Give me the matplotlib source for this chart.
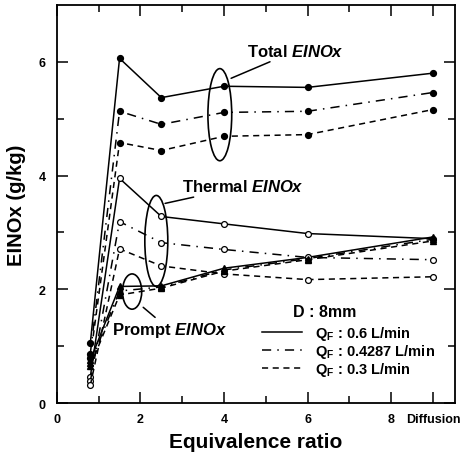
import numpy as np
import matplotlib
matplotlib.use("Agg")
import matplotlib.pyplot as plt
import matplotlib.transforms as mtransforms
from matplotlib.patches import Ellipse
from matplotlib.lines import Line2D

plt.rcParams['font.family'] = ['Liberation Sans', 'DejaVu Sans']
plt.rcParams['font.weight'] = 'bold'
plt.rcParams['mathtext.fontset'] = 'custom'
plt.rcParams['mathtext.rm'] = 'Liberation Sans:bold'
plt.rcParams['mathtext.it'] = 'Liberation Sans:italic:bold'
plt.rcParams['mathtext.bf'] = 'Liberation Sans:bold'

# equivalence ratio positions (9 = diffusion flame)
phi = [0.8, 1.5, 2.5, 4, 6, 9]
flows = ['0.6', '0.4287', '0.3']

total = {
    '0.6':    [1.05, 6.06, 5.37, 5.57, 5.55, 5.80],
    '0.4287': [0.87, 5.13, 4.90, 5.11, 5.13, 5.46],
    '0.3':    [0.80, 4.58, 4.44, 4.69, 4.72, 5.16],
}
thermal = {
    '0.6':    [0.46, 3.95, 3.28, 3.15, 2.98, 2.89],
    '0.4287': [0.38, 3.19, 2.82, 2.70, 2.56, 2.52],
    '0.3':    [0.31, 2.71, 2.41, 2.27, 2.17, 2.22],
}
prompt = {
    '0.6':    [0.75, 2.05, 2.06, 2.37, 2.56, 2.92],
    '0.4287': [0.70, 1.97, 2.04, 2.34, 2.54, 2.88],
    '0.3':    [0.65, 1.90, 2.02, 2.32, 2.52, 2.85],
}

styles = {
    '0.6': '-',
    '0.4287': (0, (6, 4, 1, 4)),
    '0.3': (0, (4, 3)),
}

fig = plt.figure(figsize=(4.74, 4.56), dpi=100)
ax = fig.add_axes([0.120, 0.114, 0.840, 0.873])

lw = 1.1
ms = 4.2
for q in flows:
    ls = styles[q]
    ax.plot(phi, total[q], linestyle=ls, color='black', lw=lw,
            marker='o', ms=ms, mfc='black', mec='black')
    ax.plot(phi, thermal[q], linestyle=ls, color='black', lw=lw,
            marker='o', ms=ms, mfc='white', mec='black', mew=0.9)
    ax.plot(phi, prompt[q], linestyle=ls, color='black', lw=lw,
            marker='^', ms=ms, mfc='black', mec='black')

# ellipses grouping the three flow rates
for (cx, cy, w, h) in [(3.9, 5.07, 0.57, 1.62),
                       (2.38, 2.85, 0.55, 1.60),
                       (1.80, 1.96, 0.46, 0.62)]:
    ax.add_patch(Ellipse((cx, cy), w, h, fill=False, lw=1.2, color='black'))

ax.annotate(r'Total $\mathit{EINOx}$', xy=(4.17, 5.71), xytext=(4.55, 6.19),
            fontsize=12, va='center', ha='left',
            arrowprops=dict(arrowstyle='-', lw=1.1, color='black', shrinkA=0, shrinkB=0))
ax.annotate(r'Thermal $\mathit{EINOx}$', xy=(2.59, 3.51), xytext=(2.99, 3.81),
            fontsize=12, va='center', ha='left',
            arrowprops=dict(arrowstyle='-', lw=1.1, color='black', shrinkA=0, shrinkB=0))
ax.annotate(r'Prompt $\mathit{EINOx}$', xy=(1.99, 1.73), xytext=(1.32, 1.29),
            fontsize=12, va='center', ha='left',
            arrowprops=dict(arrowstyle='-', lw=1.1, color='black', shrinkA=0, shrinkB=3))

handles = [Line2D([], [], color='black', lw=lw, linestyle=styles[q]) for q in flows]
labels = [r'Q$_\mathrm{F}$ : %s L/min' % q for q in flows]
ax.legend(handles, labels, frameon=False, fontsize=10.5,
          handlelength=2.75, handletextpad=0.9,
          labelspacing=0.0, borderpad=0.2,
          loc='lower right', bbox_to_anchor=(0.975, 0.037))
ax.text(0.673, 0.231, 'D : 8mm', transform=ax.transAxes, fontsize=11.5,
        fontweight='bold', ha='center', va='center')

ax.set_xlim(0, 9.53)
ax.set_ylim(0, 7.0)
ax.set_xticks([0, 2, 4, 6, 8, 9])
ax.set_xticklabels(['0', '2', '4', '6', '8', 'Diffusion'], fontsize=9, fontweight='bold')
ax.set_xticks([1, 3, 5, 7], minor=True)
ax.set_yticks([0, 2, 4, 6])
ax.set_yticklabels(['0', '2', '4', '6'], fontsize=9, fontweight='bold')
ax.set_yticks([1, 3, 5], minor=True)

# nudge the "Diffusion" label a little to the right of its tick
diff_lbl = ax.get_xticklabels()[-1]
diff_lbl.set_transform(diff_lbl.get_transform() +
                       mtransforms.ScaledTranslation(0.08, 0, fig.dpi_scale_trans))

ax.tick_params(which='both', direction='in', top=True, right=True, width=1.1)
ax.tick_params(which='major', length=8)
ax.tick_params(which='minor', length=5)
ax.tick_params(axis='x', pad=7)
ax.tick_params(axis='y', pad=8)
for s in ax.spines.values():
    s.set_linewidth(1.3)

ax.set_xlabel('Equivalence ratio', fontsize=15, fontweight='bold', labelpad=5)
ax.set_ylabel('EINOx (g/kg)', fontsize=14.5, fontweight='bold', labelpad=9)

fig.savefig('out.png', dpi=100)
